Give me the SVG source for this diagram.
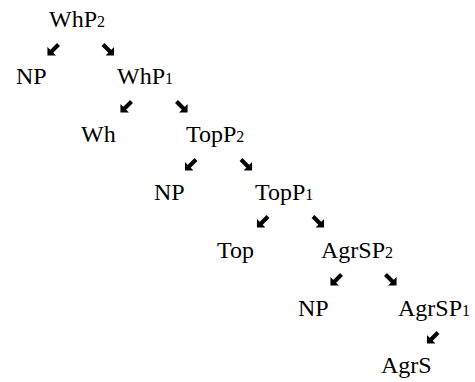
<svg xmlns="http://www.w3.org/2000/svg" width="475" height="382" viewBox="0 0 475 382" font-family="Liberation Serif, DejaVu Serif, serif" font-size="24">
<style>
.d{font-size:16px}
.c{stroke:#000;stroke-width:4;fill:none}
</style>
<defs>
<marker id="ah" viewBox="0 0 12 12" refX="7" refY="6" markerWidth="12" markerHeight="12" markerUnits="userSpaceOnUse" orient="auto"><path d="M6,0 L12,6 L6,12 z" fill="#000"/></marker>
</defs>
<rect width="475" height="382" fill="#fff"/>
<g id="connectors">
<line class="c" x1="58.5" y1="44.5" x2="51" y2="52" marker-end="url(#ah)"/>
<line class="c" x1="103" y1="44.5" x2="110.5" y2="52" marker-end="url(#ah)"/>
<line class="c" x1="131.5" y1="101.5" x2="124" y2="109" marker-end="url(#ah)"/>
<line class="c" x1="176.5" y1="101.5" x2="184" y2="109" marker-end="url(#ah)"/>
<line class="c" x1="196" y1="159.5" x2="188.5" y2="167" marker-end="url(#ah)"/>
<line class="c" x1="241" y1="159.5" x2="248.5" y2="167" marker-end="url(#ah)"/>
<line class="c" x1="268" y1="216.5" x2="260.5" y2="224" marker-end="url(#ah)"/>
<line class="c" x1="313" y1="216.5" x2="320.5" y2="224" marker-end="url(#ah)"/>
<line class="c" x1="341.5" y1="274.5" x2="334" y2="282" marker-end="url(#ah)"/>
<line class="c" x1="385.5" y1="274.5" x2="393" y2="282" marker-end="url(#ah)"/>
<line class="c" x1="438" y1="332.5" x2="430.5" y2="340" marker-end="url(#ah)"/>
</g>
<g id="n-whp2"><text x="49" y="27">WhP<tspan class="d">2</tspan></text></g>
<g id="n-np1"><text x="16" y="84">NP</text></g>
<g id="n-whp1"><text x="117" y="84">WhP<tspan class="d">1</tspan></text></g>
<g id="n-wh"><text x="81" y="142">Wh</text></g>
<g id="n-topp2"><text x="186" y="142">TopP<tspan class="d">2</tspan></text></g>
<g id="n-np2"><text x="154" y="200">NP</text></g>
<g id="n-topp1"><text x="255" y="200">TopP<tspan class="d">1</tspan></text></g>
<g id="n-top"><text x="217" y="258">Top</text></g>
<g id="n-agrsp2"><text x="321" y="258">AgrSP<tspan class="d">2</tspan></text></g>
<g id="n-np3"><text x="298" y="316">NP</text></g>
<g id="n-agrsp1"><text x="398" y="316">AgrSP<tspan class="d">1</tspan></text></g>
<g id="n-agrs"><text x="381" y="373">AgrS</text></g>
</svg>
